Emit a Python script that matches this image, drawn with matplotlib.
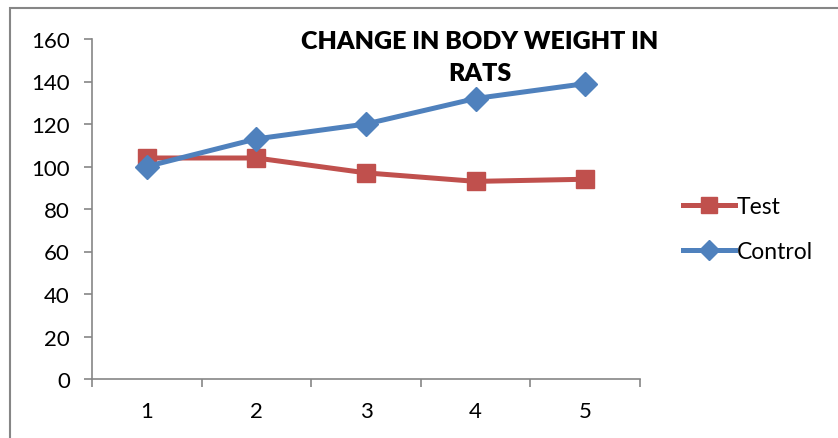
import matplotlib
matplotlib.use("Agg")
import matplotlib.pyplot as plt
from matplotlib.patches import Rectangle

categories = [1, 2, 3, 4, 5]
test_values = [104, 104, 97, 93, 94]
control_values = [100, 113, 120, 132, 139]
y_ticks = [0, 20, 40, 60, 80, 100, 120, 140, 160]

plt.rcParams['font.family'] = ['Lato', 'DejaVu Sans']

fig = plt.figure(figsize=(8.38, 4.39), dpi=100)
ax = fig.add_axes([92/838, 1-380/439, (640-92)/838, (380-40)/439])

red = '#C0504D'
blue = '#4F81BD'
ax.plot(categories, test_values, color=red, lw=3.6, marker='s', ms=13,
        markeredgecolor=red, markerfacecolor=red, label='Test', zorder=3)
ax.plot(categories, control_values, color=blue, lw=3.6, marker='D', ms=12,
        markeredgecolor=blue, markerfacecolor=blue, label='Control', zorder=4)

ax.set_xlim(0.5, 5.5)
ax.set_ylim(0, 160)
ax.set_yticks(y_ticks)
ax.set_yticklabels([str(v) for v in y_ticks], fontsize=16)
ax.set_xticks([c + 0.5 for c in [0] + categories])
ax.set_xticklabels([])
ax.set_xticks(categories, minor=True)
ax.set_xticklabels([str(c) for c in categories], minor=True, fontsize=16)
ax.tick_params(axis='x', which='major', direction='out', length=6, width=1.2, color='#868686')
ax.tick_params(axis='x', which='minor', length=0, pad=16)
ax.tick_params(axis='y', direction='out', length=6, width=1.2, color='#868686', pad=10)
for s in ['top', 'right']:
    ax.spines[s].set_visible(False)
for s in ['left', 'bottom']:
    ax.spines[s].set_color('#868686')
    ax.spines[s].set_linewidth(1.2)

fig.text(480/838, 1-58/439, 'CHANGE IN BODY WEIGHT IN\nRATS', ha='center', va='center',
         fontsize=18, fontweight='heavy', linespacing=1.6)

leg = fig.legend(loc='center left', bbox_to_anchor=(662/838, 1-230/439), frameon=False,
                 fontsize=16.5, handlelength=2.3, handletextpad=0.05, labelspacing=1.05,
                 markerscale=0.85)

fig.patches.append(Rectangle((10/838, -0.05), 1.0, 1-9/439+0.05, transform=fig.transFigure,
                             fill=False, edgecolor='#868686', lw=1.5))

fig.savefig('out.png', dpi=100)
